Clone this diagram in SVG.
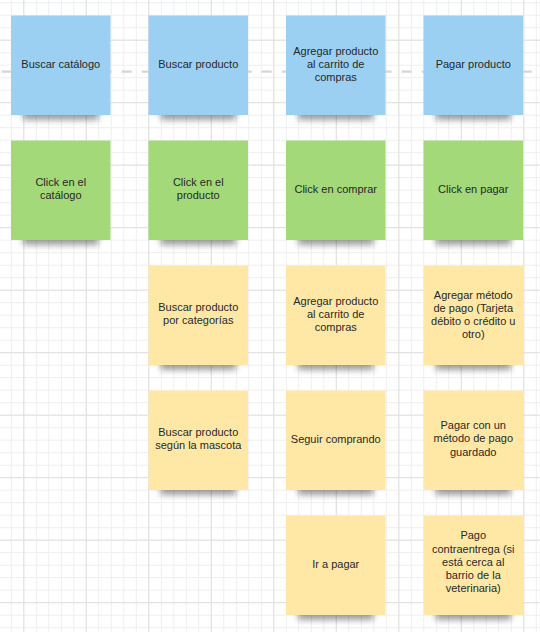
<svg xmlns="http://www.w3.org/2000/svg" width="540" height="632" viewBox="0 0 540 632">
  <defs>
    <pattern id="gMinor" patternUnits="userSpaceOnUse" x="10.8" y="2.2" width="12.5" height="12.5">
      <path d="M0.5 0V12.5M0 0.5H12.5" stroke="#eeeeee" stroke-width="1" fill="none"/>
    </pattern>
    <pattern id="gMajor" patternUnits="userSpaceOnUse" x="23.3" y="39.7" width="62.5" height="62.5">
      <path d="M0.5 0V62.5M0 0.5H62.5" stroke="#e0e0e0" stroke-width="1" fill="none"/>
    </pattern>
    <filter id="sh" x="-30%" y="-100%" width="160%" height="300%">
      <feGaussianBlur stdDeviation="3.2"/>
    </filter>
  </defs>
  <style>
    .shadow { fill: #000; opacity: 0.38; filter: url(#sh); }
    .blue { fill: #9bd0f3; }
    .green { fill: #a3d978; }
    .yellow { fill: #ffe8a6; }
    text { font-family: "Liberation Sans", Arial, sans-serif; font-size: 11px; fill: #282828; text-anchor: middle; }
  </style>

  <rect width="540" height="632" fill="#ffffff"/>
  <rect width="540" height="632" fill="url(#gMinor)"/>
  <rect width="540" height="632" fill="url(#gMajor)"/>

  <line x1="-18.3" y1="71.7" x2="545" y2="71.7" stroke="#d6d6d6" stroke-width="2.2" stroke-dasharray="10 10"/>

  <!-- Row 1 -->
  <g id="buscar-catalogo">
    <rect class="shadow" x="23" y="109" width="75.5" height="11"/>
    <rect class="blue" x="11" y="15.5" width="99.5" height="99.5"/>
    <text x="60.75" y="68.3">Buscar catálogo</text>
  </g>
  <g id="buscar-producto">
    <rect class="shadow" x="160.5" y="109" width="75.5" height="11"/>
    <rect class="blue" x="148.5" y="15.5" width="99.5" height="99.5"/>
    <text x="198.25" y="68.3">Buscar producto</text>
  </g>
  <g id="agregar-carrito">
    <rect class="shadow" x="298" y="109" width="75.5" height="11"/>
    <rect class="blue" x="286" y="15.5" width="99.5" height="99.5"/>
    <text x="335.75" y="54.5">Agregar producto</text>
    <text x="335.75" y="67.6">al carrito de</text>
    <text x="335.75" y="80.7">compras</text>
  </g>
  <g id="pagar-producto">
    <rect class="shadow" x="435.5" y="109" width="75.5" height="11"/>
    <rect class="blue" x="423.5" y="15.5" width="99.5" height="99.5"/>
    <text x="473.25" y="68.3">Pagar producto</text>
  </g>

  <!-- Row 2 -->
  <g id="click-catalogo">
    <rect class="shadow" x="23" y="234" width="75.5" height="11"/>
    <rect class="green" x="11" y="140.5" width="99.5" height="99.5"/>
    <text x="60.75" y="185.7">Click en el</text>
    <text x="60.75" y="198.9">catálogo</text>
  </g>
  <g id="click-producto">
    <rect class="shadow" x="160.5" y="234" width="75.5" height="11"/>
    <rect class="green" x="148.5" y="140.5" width="99.5" height="99.5"/>
    <text x="198.25" y="185.7">Click en el</text>
    <text x="198.25" y="198.9">producto</text>
  </g>
  <g id="click-comprar">
    <rect class="shadow" x="298" y="234" width="75.5" height="11"/>
    <rect class="green" x="286" y="140.5" width="99.5" height="99.5"/>
    <text x="335.75" y="193.3">Click en comprar</text>
  </g>
  <g id="click-pagar">
    <rect class="shadow" x="435.5" y="234" width="75.5" height="11"/>
    <rect class="green" x="423.5" y="140.5" width="99.5" height="99.5"/>
    <text x="473.25" y="193.3">Click en pagar</text>
  </g>

  <!-- Row 3 -->
  <g id="buscar-categorias">
    <rect class="shadow" x="160.5" y="359" width="75.5" height="11"/>
    <rect class="yellow" x="148.5" y="265.5" width="99.5" height="99.5"/>
    <text x="198.25" y="310.7">Buscar producto</text>
    <text x="198.25" y="323.9">por categorías</text>
  </g>
  <g id="agregar-carrito-2">
    <rect class="shadow" x="298" y="359" width="75.5" height="11"/>
    <rect class="yellow" x="286" y="265.5" width="99.5" height="99.5"/>
    <text x="335.75" y="304.7">Agregar producto</text>
    <text x="335.75" y="317.7">al carrito de</text>
    <text x="335.75" y="330.7">compras</text>
  </g>
  <g id="agregar-metodo">
    <rect class="shadow" x="435.5" y="359" width="75.5" height="11"/>
    <rect class="yellow" x="423.5" y="265.5" width="99.5" height="99.5"/>
    <text x="473.25" y="299">Agregar método</text>
    <text x="473.25" y="312.2">de pago (Tarjeta</text>
    <text x="473.25" y="325.2">débito o crédito u</text>
    <text x="473.25" y="338.3">otro)</text>
  </g>

  <!-- Row 4 -->
  <g id="buscar-mascota">
    <rect class="shadow" x="160.5" y="484" width="75.5" height="11"/>
    <rect class="yellow" x="148.5" y="390.5" width="99.5" height="99.5"/>
    <text x="198.25" y="435.7">Buscar producto</text>
    <text x="198.25" y="448.9">según la mascota</text>
  </g>
  <g id="seguir-comprando">
    <rect class="shadow" x="298" y="484" width="75.5" height="11"/>
    <rect class="yellow" x="286" y="390.5" width="99.5" height="99.5"/>
    <text x="335.75" y="443.3">Seguir comprando</text>
  </g>
  <g id="pagar-guardado">
    <rect class="shadow" x="435.5" y="484" width="75.5" height="11"/>
    <rect class="yellow" x="423.5" y="390.5" width="99.5" height="99.5"/>
    <text x="473.25" y="429">Pagar con un</text>
    <text x="473.25" y="442.2">método de pago</text>
    <text x="473.25" y="455.5">guardado</text>
  </g>

  <!-- Row 5 -->
  <g id="ir-a-pagar">
    <rect class="shadow" x="298" y="609" width="75.5" height="11"/>
    <rect class="yellow" x="286" y="515.5" width="99.5" height="99.5"/>
    <text x="335.75" y="568.3">Ir a pagar</text>
  </g>
  <g id="pago-contraentrega">
    <rect class="shadow" x="435.5" y="609" width="75.5" height="11"/>
    <rect class="yellow" x="423.5" y="515.5" width="99.5" height="99.5"/>
    <text x="473.25" y="539.3">Pago</text>
    <text x="473.25" y="552.6">contraentrega (si</text>
    <text x="473.25" y="565.9">está cerca al</text>
    <text x="473.25" y="579.1">barrio de la</text>
    <text x="473.25" y="592.3">veterinaria)</text>
  </g>
</svg>
